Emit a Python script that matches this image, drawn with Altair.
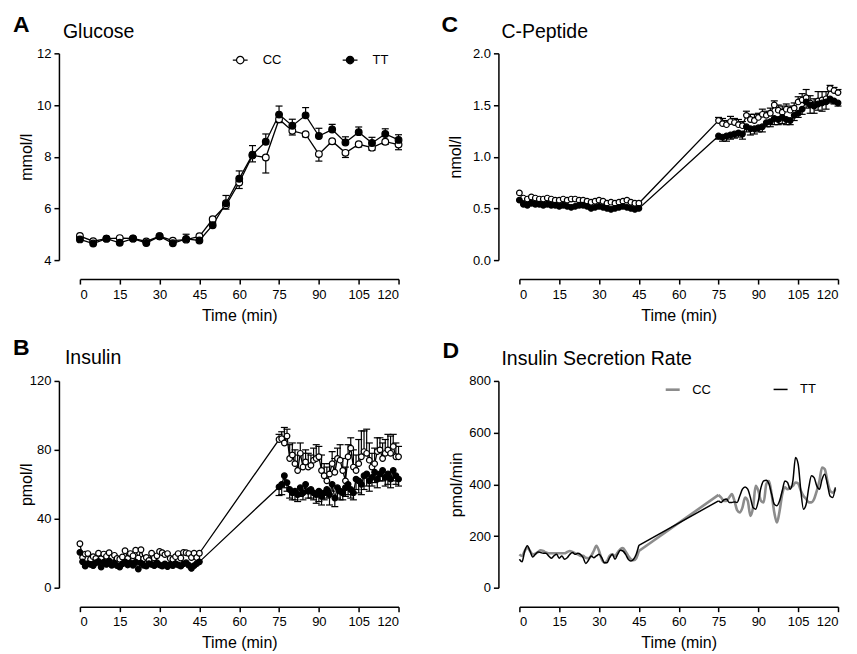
import altair as alt
import pandas as pd

FONT = "Liberation Sans"

# ---------------- Glucose (A) ----------------
glu_t = [0, 5, 10, 15, 20, 25, 30, 35, 40, 45, 50, 55, 60, 65, 70, 75, 80, 85, 90, 95, 100, 105, 110, 115, 120]
glu_cc = [4.93, 4.73, 4.83, 4.85, 4.84, 4.72, 4.92, 4.75, 4.79, 4.92, 5.58, 6.12, 7.0, 8.05, 7.97, 9.45, 9.0, 8.87, 8.1, 8.6, 8.15, 8.48, 8.35, 8.58, 8.47]
glu_cc_sem = [0.04, 0.03, 0.04, 0.04, 0.04, 0.03, 0.04, 0.04, 0.04, 0.04, 0.08, 0.15, 0.23, 0.25, 0.6, 0.13, 0.16, 0.1, 0.27, 0.1, 0.18, 0.1, 0.1, 0.1, 0.2]
glu_tt = [4.8, 4.64, 4.83, 4.67, 4.83, 4.66, 4.92, 4.65, 4.82, 4.76, 5.35, 6.2, 7.15, 8.08, 8.58, 9.63, 9.2, 9.6, 8.8, 9.05, 8.55, 8.95, 8.53, 8.88, 8.65]
glu_tt_sem = [0.05, 0.04, 0.05, 0.04, 0.05, 0.04, 0.05, 0.04, 0.18, 0.05, 0.1, 0.3, 0.3, 0.35, 0.3, 0.33, 0.25, 0.3, 0.3, 0.2, 0.22, 0.2, 0.22, 0.2, 0.2]

# ---------------- Insulin (B) ----------------
ins_t_pre = list(range(0, 46))
ins_t_post = list(range(75, 121))
ins_cc_pre = [25.5, 17.5, 19.5, 19.8, 16.5, 18.0, 17.0, 20.0, 16.8, 19.5,
              18.2, 20.3, 17.5, 18.8, 17.0, 16.5, 17.8, 21.5, 17.0, 19.8,
              18.5, 21.8, 17.2, 22.0, 16.8, 17.5, 15.8, 20.0, 17.2, 18.5,
              21.0, 20.3, 19.2, 19.8, 17.0, 16.5, 18.0, 19.8, 17.2, 20.5,
              20.3, 19.8, 17.5, 20.0, 17.5, 20.0]
ins_tt_pre = [20.5, 15.0, 12.5, 14.0, 13.5, 12.8, 14.5, 15.2, 12.0, 14.8,
              13.5, 15.5, 13.0, 14.2, 12.8, 12.0, 13.8, 15.0, 13.2, 14.5,
              13.0, 14.8, 10.8, 14.2, 13.0, 12.5, 14.0, 13.5, 12.8, 14.5,
              13.2, 12.5, 13.8, 12.2, 13.5, 12.8, 14.0, 13.2, 12.5, 13.8,
              14.5, 13.0, 11.2, 12.8, 14.0, 15.0]
ins_cc_post = [86, 86.5, 84, 88, 75, 77, 72, 68, 78, 70,
               73, 70, 71, 74, 75, 76, 68, 65, 62, 66,
               72, 67, 75, 74, 68, 62, 76, 81, 70, 68,
               72, 76, 79, 78, 74, 70, 72, 79, 80, 75,
               78, 80, 78, 82, 76, 76]
ins_tt_post = [58.5, 60, 65, 61, 57, 55, 56, 54, 58, 55,
               60, 56, 57, 55, 54, 56, 53, 55, 57, 54,
               60, 52, 58, 56, 55, 58, 60, 57, 55, 63,
               62, 60, 65, 66, 62, 64, 67, 63, 66, 68,
               64, 66, 63, 68, 65, 63]
ins_cc_sem_post = [3, 4, 9, 4, 8, 7, 8, 9, 6, 8, 7, 8, 6, 7, 8, 6, 9, 7, 8, 6,
                   7, 8, 6, 9, 7, 8, 7, 6, 10, 9, 14, 15, 12, 14, 10, 8, 9, 8, 7, 9,
                   8, 9, 10, 7, 8, 6]
ins_tt_sem_post = [5, 6, 7, 5, 5, 4, 5, 4, 5, 4, 5, 4, 5, 4, 5, 6, 5, 4, 5, 6,
                   4, 5, 6, 5, 4, 5, 6, 5, 4, 6, 7, 6, 8, 7, 6, 5, 6, 5, 4, 6,
                   5, 6, 5, 6, 5, 4]

# ---------------- C-Peptide (C) ----------------
cp_t_pre = [i * 1.5 for i in range(31)]
cp_t_post = [75 + i * 1.5 for i in range(31)]
cp_cc_pre = [0.65, 0.60, 0.59, 0.61, 0.60, 0.59, 0.59, 0.60, 0.59, 0.58,
             0.58, 0.59, 0.58, 0.59, 0.59, 0.58, 0.58, 0.57, 0.56, 0.57,
             0.58, 0.57, 0.55, 0.56, 0.55, 0.56, 0.57, 0.58, 0.56, 0.55, 0.55]
cp_tt_pre = [0.58, 0.54, 0.53, 0.55, 0.54, 0.54, 0.53, 0.54, 0.53, 0.53,
             0.52, 0.53, 0.52, 0.51, 0.52, 0.53, 0.53, 0.52, 0.50, 0.51,
             0.52, 0.51, 0.50, 0.49, 0.50, 0.51, 0.52, 0.51, 0.50, 0.49, 0.50]
cp_cc_post = [1.35, 1.32, 1.31, 1.34, 1.33, 1.31, 1.30, 1.40, 1.36, 1.35,
              1.38, 1.41, 1.40, 1.42, 1.50, 1.45, 1.43, 1.46, 1.45, 1.47,
              1.53, 1.55, 1.57, 1.52, 1.50, 1.54, 1.55, 1.56, 1.66, 1.64, 1.62]
cp_tt_post = [1.20, 1.19, 1.20, 1.21, 1.22, 1.23, 1.22, 1.29, 1.27, 1.27,
              1.28, 1.29, 1.33, 1.34, 1.37, 1.36, 1.38, 1.36, 1.35, 1.40,
              1.42, 1.46, 1.53, 1.50, 1.49, 1.51, 1.52, 1.53, 1.56, 1.54, 1.52]
cp_cc_sem_post = [0.03, 0.05, 0.04, 0.05, 0.04, 0.05, 0.04, 0.04, 0.05, 0.06,
                  0.04, 0.05, 0.04, 0.05, 0.04, 0.05, 0.06, 0.05, 0.04, 0.05,
                  0.05, 0.06, 0.08, 0.07, 0.06, 0.09, 0.08, 0.07, 0.03, 0.03, 0.03]
cp_tt_sem_post = [0.03, 0.04, 0.05, 0.04, 0.04, 0.04, 0.05, 0.05, 0.06, 0.05,
                  0.04, 0.05, 0.04, 0.05, 0.06, 0.05, 0.06, 0.05, 0.04, 0.05,
                  0.04, 0.05, 0.06, 0.08, 0.07, 0.06, 0.08, 0.07, 0.04, 0.03, 0.03]

# ---------------- Insulin secretion rate (D) ----------------
isr_t_pre = list(range(0, 46))
isr_t_post = list(range(75, 120))
isr_cc_pre = [129, 123, 142, 155, 142, 129, 132, 138, 145, 142,
              136, 133, 133, 133, 133, 133, 133, 133, 138, 142,
              138, 133, 129, 123, 123, 116, 114, 123, 142, 162,
              142, 110, 97, 103, 123, 129, 123, 136, 149, 153,
              140, 123, 110, 106, 114, 142]
isr_tt_pre = [110, 100, 142, 162, 142, 119, 129, 138, 136, 133,
              133, 123, 114, 123, 129, 114, 123, 110, 116, 129,
              136, 129, 133, 129, 116, 94, 106, 123, 116, 123,
              129, 116, 97, 97, 116, 129, 110, 129, 145, 142,
              129, 110, 103, 110, 129, 164]
isr_cc_post = [359, 349, 336, 336, 349, 362, 336, 300, 291, 310,
               349, 336, 278, 310, 394, 375, 336, 330, 401, 413,
               362, 291, 252, 297, 362, 388, 381, 388, 394, 407,
               403, 375, 355, 343, 330, 330, 343, 375, 413, 465,
               459, 413, 375, 368, 381]
isr_tt_post = [336, 330, 340, 343, 330, 330, 332, 330, 355, 381,
               390, 381, 349, 310, 304, 336, 388, 413, 416, 401,
               362, 323, 317, 336, 375, 413, 407, 381, 413, 504,
               478, 375, 304, 323, 388, 433, 426, 394, 381, 420,
               439, 401, 355, 349, 388]

GROUPS = ["CC", "TT"]
X_TICKS = [0, 15, 30, 45, 60, 75, 90, 105, 120]
W, H = 319, 207

LEG_PATH = "M-2,0L-1,0M1,0L2,0M1,0A1,1,0,1,1,-1,0A1,1,0,1,1,1,0"


def long_df(t_cc, cc, t_tt, tt):
    return pd.DataFrame({
        "t": list(t_cc) + list(t_tt),
        "v": list(cc) + list(tt),
        "group": ["CC"] * len(cc) + ["TT"] * len(tt),
    })


def err_df(t, v, sem, sign, group):
    return pd.DataFrame({
        "t": list(t),
        "v": list(v),
        "end": [a + sign * s for a, s in zip(v, sem)],
        "group": [group] * len(v),
    })


def label_layers(letter, letter_x, letter_y, title, title_x, title_y):
    lt = alt.Chart(pd.DataFrame({"s": [letter]})).mark_text(
        align="left", baseline="alphabetic", font=FONT, fontSize=23,
        fontWeight="bold", color="black"
    ).encode(x=alt.value(letter_x), y=alt.value(letter_y), text="s:N")
    tt = alt.Chart(pd.DataFrame({"s": [title]})).mark_text(
        align="left", baseline="alphabetic", font=FONT, fontSize=19.5,
        color="black"
    ).encode(x=alt.value(title_x), y=alt.value(title_y), text="s:N")
    return [lt, tt]


def x_enc():
    return alt.X("t:Q", scale=alt.Scale(domain=[0, 120], nice=False, zero=False),
                 axis=alt.Axis(values=X_TICKS, title="Time (min)", offset=19,
                               labelOverlap=False))


def y_enc(dom, vals, title, fmt, title_x, field="v"):
    return alt.Y(f"{field}:Q", scale=alt.Scale(domain=dom, nice=False, zero=False),
                 axis=alt.Axis(values=vals, title=title, format=fmt, offset=21,
                               titleX=title_x, titleY=H / 2, labelOverlap=False))


def series_panel(df, errs, dom, vals, ytitle, fmt, ytitle_x, msize, labels, legend):
    x = x_enc()
    y = y_enc(dom, vals, ytitle, fmt, ytitle_x)
    base = alt.Chart(df)
    line = base.mark_line(color="black", strokeWidth=1.3).encode(x=x, y=y, detail="group:N")
    rule = alt.Chart(errs).mark_rule(color="black", strokeWidth=1.2).encode(
        x=x, y=y, y2="end:Q")
    cap = alt.Chart(errs).mark_tick(color="black", thickness=1.2, size=7,
                                    orient="horizontal", opacity=1).encode(
        x=x, y=y_enc(dom, vals, ytitle, fmt, ytitle_x, field="end"))
    pts = base.mark_circle(stroke="black", strokeWidth=1.2, size=msize, opacity=1).encode(
        x=x, y=y,
        fill=alt.Fill("group:N", scale=alt.Scale(domain=GROUPS, range=["white", "black"]),
                      legend=legend),
        order=alt.Order("group:N"),
    )
    return alt.layer(line, rule, cap, pts, *labels).properties(width=W, height=H)


# Panel A
glu_df = long_df(glu_t, glu_cc, glu_t, glu_tt)
glu_err = pd.concat([err_df(glu_t, glu_cc, glu_cc_sem, -1, "CC"),
                     err_df(glu_t, glu_tt, glu_tt_sem, 1, "TT")])
legA = alt.Legend(orient="none", legendX=154, legendY=0, direction="horizontal",
                  columns=2, title=None, symbolType=LEG_PATH, symbolSize=55,
                  symbolStrokeColor="black", symbolStrokeWidth=1.2, labelFont=FONT,
                  labelFontSize=13, labelColor="black", labelOffset=16, columnPadding=58)
panelA = series_panel(glu_df, glu_err, [4, 12], [4, 6, 8, 10, 12], "mmol/l", "d", -24, 45,
                      label_layers("A", -67, -21, "Glucose", -17, -15), legA)

# Panel B
ins_df = long_df(ins_t_pre + ins_t_post, ins_cc_pre + ins_cc_post,
                 ins_t_pre + ins_t_post, ins_tt_pre + ins_tt_post)
ins_err = pd.concat([err_df(ins_t_post, ins_cc_post, ins_cc_sem_post, 1, "CC"),
                     err_df(ins_t_post, ins_tt_post, ins_tt_sem_post, -1, "TT")])
panelB = series_panel(ins_df, ins_err, [0, 120], [0, 40, 80, 120], "pmol/l", "d", -24, 32,
                      label_layers("B", -67, -26, "Insulin", -15, -17), None)

# Panel C
cp_df = long_df(cp_t_pre + cp_t_post, cp_cc_pre + cp_cc_post,
                cp_t_pre + cp_t_post, cp_tt_pre + cp_tt_post)
cp_err = pd.concat([err_df(cp_t_post, cp_cc_post, cp_cc_sem_post, 1, "CC"),
                    err_df(cp_t_post, cp_tt_post, cp_tt_sem_post, -1, "TT")])
panelC = series_panel(cp_df, cp_err, [0, 2], [0, 0.5, 1.0, 1.5, 2.0], "nmol/l", ".1f", -35, 32,
                      label_layers("C", -78, -21, "C-Peptide", -18, -15), None)

# Panel D: smooth spline within each sampled phase, straight link between phases
isr_curve = pd.DataFrame({
    "t": isr_t_pre + isr_t_post + isr_t_pre + isr_t_post,
    "v": isr_cc_pre + isr_cc_post + isr_tt_pre + isr_tt_post,
    "group": ["CC"] * (len(isr_cc_pre) + len(isr_cc_post)) + ["TT"] * (len(isr_tt_pre) + len(isr_tt_post)),
    "seg": ["pre"] * len(isr_cc_pre) + ["post"] * len(isr_cc_post)
           + ["pre"] * len(isr_tt_pre) + ["post"] * len(isr_tt_post),
})
isr_link = pd.DataFrame({
    "t": [isr_t_pre[-1], isr_t_post[0], isr_t_pre[-1], isr_t_post[0]],
    "v": [isr_cc_pre[-1], isr_cc_post[0], isr_tt_pre[-1], isr_tt_post[0]],
    "group": ["CC", "CC", "TT", "TT"],
})
legD = alt.Legend(orient="none", legendX=145, legendY=0, direction="horizontal",
                  columns=2, title=None, symbolType="stroke", symbolSize=196,
                  labelFont=FONT, labelFontSize=13, labelColor="black",
                  labelOffset=11, columnPadding=59)
colD = alt.Color("group:N", scale=alt.Scale(domain=GROUPS, range=["#8c8c8c", "black"]), legend=legD)
swD = alt.StrokeWidth("group:N", scale=alt.Scale(domain=GROUPS, range=[2.6, 1.5]), legend=legD)
xD = x_enc()
yD = y_enc([0, 800], [0, 200, 400, 600, 800], "pmol/min", "d", -34)
isr_line = alt.Chart(isr_curve).mark_line(interpolate="monotone").encode(
    x=xD, y=yD, color=colD, strokeWidth=swD, detail="seg:N",
)
isr_link_line = alt.Chart(isr_link).mark_line().encode(
    x=xD, y=yD, color=colD, strokeWidth=swD,
)
panelD = alt.layer(isr_link_line, isr_line,
                   *label_layers("D", -77, -23, "Insulin Secretion Rate", -18, -16)
                   ).properties(width=W, height=H)

chart = alt.concat(panelA, panelC, panelB, panelD, columns=2, spacing=121, bounds="flush"
                   ).resolve_scale(
    fill="independent", color="independent", strokeWidth="independent").resolve_legend(
    fill="independent", color="independent", strokeWidth="independent"
).properties(
    padding={"left": 5, "top": 6, "right": 5, "bottom": 5}
).configure_view(stroke=None).configure_axis(
    domainColor="black", domainWidth=1.5, tickColor="black", tickWidth=1.5, tickSize=5,
    labelFont=FONT, labelFontSize=13, labelColor="black", labelPadding=3,
    labelOverlap=False,
    titleFont=FONT, titleFontSize=16, titleFontWeight="normal", titleColor="black",
    grid=False
).configure_axisX(labelPadding=4, titlePadding=6)

chart.save("out.html", embed_options={"renderer": "svg", "actions": False})
